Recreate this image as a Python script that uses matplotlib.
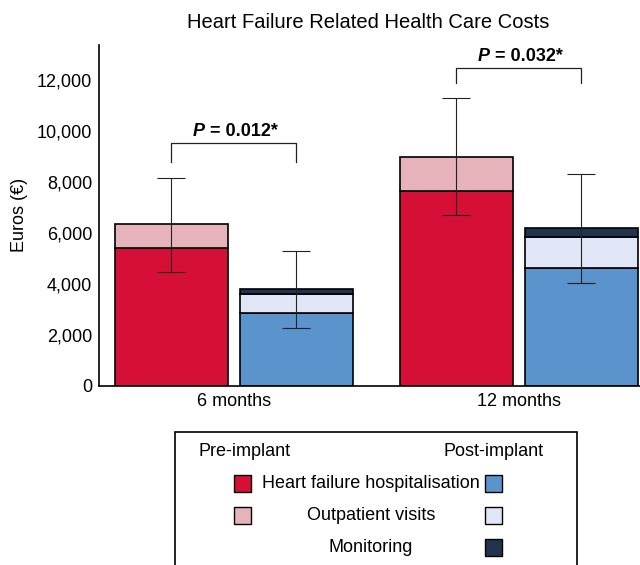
import numpy as np
import matplotlib.pyplot as plt
from matplotlib.patches import Rectangle

plt.rcParams['font.family'] = ['Liberation Sans', 'DejaVu Sans']

# data (euros)
periods = ['6 months', '12 months']
pre_hf = [5400, 7630]
pre_out = [930, 1330]
post_hf = [2850, 4600]
post_out = [750, 1240]
post_mon = [190, 330]
pre_ci_low = [4450, 6680]
pre_ci_high = [8160, 11270]
post_ci_low = [2250, 4030]
post_ci_high = [5280, 8310]
p_values = ['0.012', '0.032']
bracket_top = [9500, 12450]
bracket_bottom = [8780, 11860]

c_red = '#D60F36'
c_pink = '#E6B3BA'
c_blue = '#5B93CC'
c_lav = '#E1E6F6'
c_navy = '#22344D'

fs = 13

fig = plt.figure(figsize=(6.4, 5.65), dpi=100)
ax = fig.add_axes([0.1547, 0.3173, 0.8453, 0.6031])

group = np.array([0.0, 2.28])
w = 0.905
pre_x = group
post_x = group + 1.0
ekw = dict(edgecolor='black', linewidth=1.2, width=w)

ax.bar(pre_x, pre_hf, color=c_red, **ekw)
ax.bar(pre_x, pre_out, bottom=pre_hf, color=c_pink, **ekw)
post_b2 = np.array(post_hf) + np.array(post_out)
ax.bar(post_x, post_hf, color=c_blue, **ekw)
ax.bar(post_x, post_out, bottom=post_hf, color=c_lav, **ekw)
ax.bar(post_x, post_mon, bottom=post_b2, color=c_navy, **ekw)

pre_tot = np.array(pre_hf) + np.array(pre_out)
post_tot = post_b2 + np.array(post_mon)
ax.errorbar(pre_x, pre_tot, yerr=[pre_tot - pre_ci_low, np.array(pre_ci_high) - pre_tot],
            fmt='none', ecolor='#222222', elinewidth=0.8, capsize=10, capthick=0.8)
ax.errorbar(post_x, post_tot, yerr=[post_tot - post_ci_low, np.array(post_ci_high) - post_tot],
            fmt='none', ecolor='#222222', elinewidth=0.8, capsize=10, capthick=0.8)

# significance brackets
for i in range(2):
    x0, x1 = pre_x[i], post_x[i]
    ax.plot([x0, x0, x1, x1], [bracket_bottom[i], bracket_top[i], bracket_top[i], bracket_bottom[i]],
            color='#222222', lw=0.9)
    t1 = ax.text((x0 + x1) / 2 - 0.33, bracket_top[i] + 120, 'P', fontsize=fs,
                 fontweight='bold', fontstyle='italic', ha='left', va='bottom')
    ax.annotate(' = ' + p_values[i] + '*', xy=(1, 0), xycoords=t1, fontsize=fs,
                fontweight='bold', ha='left', va='bottom')

ax.set_xlim(-0.58, 3.75)
ax.set_ylim(0, 13360)
ax.set_yticks(np.arange(0, 12001, 2000))
ax.set_yticklabels([f'{v:,}' for v in range(0, 12001, 2000)])
ax.set_xticks(group + 0.5)
ax.set_xticklabels(periods)
ax.tick_params(length=0, labelsize=fs, pad=5)
ax.tick_params(axis='y', pad=5)
ax.set_ylabel('Euros (€)', fontsize=fs, labelpad=6)
for s in ['top', 'right']:
    ax.spines[s].set_visible(False)
for s in ['left', 'bottom']:
    ax.spines[s].set_linewidth(1.2)

fig.text(368 / 640, 1 - 22 / 565, 'Heart Failure Related Health Care Costs',
         fontsize=14.5, ha='center', va='center')

# legend box drawn by hand
H = 565.0
def fy(py):
    return 1 - py / H
def fx(px):
    return px / 640.0

fig.patches.append(Rectangle((fx(175), fy(575)), fx(577) - fx(175), fy(432) - fy(575),
                             transform=fig.transFigure, fill=False, edgecolor='black',
                             linewidth=1.2, clip_on=False))
fig.text(fx(198), fy(452), 'Pre-implant', fontsize=fs, ha='left', va='center')
fig.text(fx(544), fy(452), 'Post-implant', fontsize=fs, ha='right', va='center')

legend_labels = ['Heart failure hospitalisation', 'Outpatient visits', 'Monitoring']
legend_pre = [c_red, c_pink, None]
legend_post = [c_blue, c_lav, c_navy]
rows = [483, 515, 547]
for lab, cp, cq, ry in zip(legend_labels, legend_pre, legend_post, rows):
    fig.text(fx(371), fy(ry), lab, fontsize=fs, ha='center', va='center')
    for col, px in [(cp, 234), (cq, 485)]:
        if col is None:
            continue
        fig.patches.append(Rectangle((fx(px), fy(ry + 8.5)), fx(17), fy(0) - fy(17),
                                     transform=fig.transFigure, facecolor=col,
                                     edgecolor='black', linewidth=1.0))

fig.savefig('out.png', dpi=100)
